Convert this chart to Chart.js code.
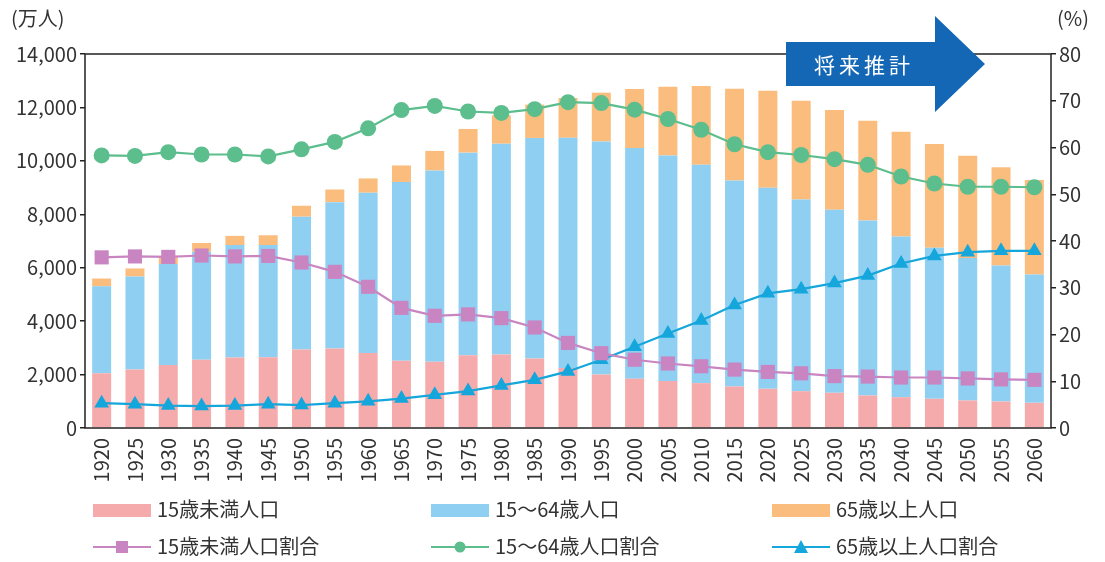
<!DOCTYPE html>
<html lang="ja">
<head>
<meta charset="utf-8">
<script src="https://cdn.jsdelivr.net/npm/chart.js@4"></script>
<style>
  html, body { margin: 0; padding: 0; background: #fff; }
  #wrap { position: relative; width: 1105px; height: 562px; font-family: "Noto Sans CJK JP", "Noto Sans", sans-serif; color: #333; }
  #c { position: absolute; left: 0; top: 0; }
  .unit { position: absolute; top: 4px; font-size: 20px; line-height: 28px; }
  .lg { position: absolute; font-size: 20px; white-space: nowrap; line-height: 24px; }
  .lg canvas { vertical-align: middle; margin-right: 6px; position: relative; top: -2px; }
</style>
</head>
<body>
<div id="wrap">
  <canvas id="c" width="1105" height="562"></canvas>
  <div class="unit" style="left:11px">(万人)</div>
  <div class="unit" style="left:1057px">(%)</div>
  <div id="legend"></div>
</div>
<script>
// 年次
var years = ['1920', '1925', '1930', '1935', '1940', '1945', '1950', '1955', '1960', '1965',
  '1970', '1975', '1980', '1985', '1990', '1995', '2000', '2005', '2010', '2015',
  '2020', '2025', '2030', '2035', '2040', '2045', '2050', '2055', '2060'];

// 人口（万人）
var pop0to14 = [2048, 2192, 2359, 2555, 2640, 2648, 2943, 2980, 2807, 2517,
  2482, 2722, 2751, 2603, 2249, 2001, 1847, 1759, 1680, 1554,
  1468, 1378, 1318, 1217, 1153, 1093, 1030, 992, 943];
var pop15to64 = [3254, 3477, 3780, 4045, 4208, 4199, 4966, 5473, 6000, 6693,
  7157, 7585, 7890, 8255, 8614, 8726, 8638, 8442, 8173, 7712,
  7525, 7177, 6851, 6552, 6017, 5654, 5332, 5092, 4804];
var pop65over = [294, 305, 306, 325, 345, 368, 411, 475, 535, 618,
  733, 887, 1065, 1247, 1489, 1826, 2204, 2576, 2948, 3434,
  3635, 3699, 3737, 3736, 3923, 3886, 3833, 3676, 3538];

// 割合（%）
var rate0to14 = [36.5, 36.7, 36.6, 36.9, 36.7, 36.8, 35.4, 33.4, 30.2, 25.7,
  24.0, 24.3, 23.5, 21.5, 18.2, 16.0, 14.6, 13.8, 13.2, 12.5,
  12.0, 11.7, 11.1, 11.0, 10.8, 10.8, 10.6, 10.4, 10.3];
var rate15to64 = [58.3, 58.2, 59.0, 58.5, 58.5, 58.1, 59.6, 61.2, 64.1, 68.0,
  68.9, 67.7, 67.4, 68.2, 69.7, 69.5, 68.1, 66.1, 63.8, 60.7,
  59.0, 58.4, 57.5, 56.3, 53.8, 52.3, 51.6, 51.6, 51.5];
var rate65over = [5.3, 5.1, 4.8, 4.7, 4.8, 5.1, 4.9, 5.3, 5.7, 6.3,
  7.1, 7.9, 9.1, 10.3, 12.1, 14.6, 17.4, 20.2, 23.0, 26.3,
  28.8, 29.7, 31.0, 32.6, 35.2, 36.8, 37.6, 37.9, 37.9];

var leftTicks = [0, 2000, 4000, 6000, 8000, 10000, 12000, 14000];
var rightTicks = [0, 10, 20, 30, 40, 50, 60, 70, 80];

var colPink = '#f5aaab';
var colBlue = '#8fd0f2';
var colOrange = '#fbbd7e';
var colPurple = '#c985c2';
var colGreen = '#5cbd8d';
var colCyan = '#15a6dc';
var axisCol = '#222';
var fontJa = '"Noto Sans CJK JP", "Noto Sans", sans-serif';

function barSet(label, data, color) {
  return {
    type: 'bar', label: label, data: data, backgroundColor: color,
    yAxisID: 'y', stack: 'pop', order: 2,
    barPercentage: 0.57, categoryPercentage: 1.0
  };
}
function lineSet(label, data, color, style, radius) {
  return {
    type: 'line', label: label, data: data, borderColor: color, backgroundColor: color,
    borderWidth: 2.2, pointStyle: style, pointRadius: radius, pointBorderWidth: 0,
    yAxisID: 'y1', order: 0, tension: 0
  };
}

// 枠線と「将来推計」の矢印
var framePlugin = {
  id: 'frame',
  afterDraw: function(chart) {
    var ctx = chart.ctx, a = chart.chartArea;
    ctx.save();
    ctx.strokeStyle = axisCol;
    ctx.lineWidth = 1.5;
    ctx.strokeRect(a.left, a.top, a.right - a.left, a.bottom - a.top);
    // arrow
    ctx.fillStyle = '#1467b5';
    ctx.beginPath();
    ctx.moveTo(786, 42);
    ctx.lineTo(935, 42);
    ctx.lineTo(935, 16);
    ctx.lineTo(985, 64);
    ctx.lineTo(935, 112);
    ctx.lineTo(935, 86);
    ctx.lineTo(786, 86);
    ctx.closePath();
    ctx.fill();
    ctx.fillStyle = '#fff';
    ctx.font = '21px ' + fontJa;
    ctx.textAlign = 'center';
    ctx.textBaseline = 'middle';
    if (ctx.letterSpacing !== undefined) ctx.letterSpacing = '4px';
    ctx.fillText('将来推計', 864, 65);
    ctx.restore();
  }
};

new Chart(document.getElementById('c'), {
  data: {
    labels: years,
    datasets: [
      barSet('15歳未満人口', pop0to14, colPink),
      barSet('15～64歳人口', pop15to64, colBlue),
      barSet('65歳以上人口', pop65over, colOrange),
      lineSet('15歳未満人口割合', rate0to14, colPurple, 'rect', 10),
      lineSet('15～64歳人口割合', rate15to64, colGreen, 'circle', 8),
      lineSet('65歳以上人口割合', rate65over, colCyan, 'triangle', 8.5)
    ]
  },
  options: {
    responsive: false,
    animation: false,
    layout: { padding: { top: 54, bottom: 70, left: 0, right: 0 } },
    plugins: { legend: { display: false }, tooltip: { enabled: false } },
    scales: {
      x: {
        stacked: true,
        offset: true,
        grid: { display: false },
        border: { display: false },
        ticks: {
          minRotation: 90, maxRotation: 90, autoSkip: false, padding: 2,
          color: '#333', font: { family: fontJa, size: 20 }
        },
        afterFit: function(s) { s.height = 64; }
      },
      y: {
        position: 'left',
        stacked: true,
        min: 0, max: 14000,
        afterBuildTicks: function(s) { s.ticks = leftTicks.map(function(v) { return { value: v }; }); },
        grid: { drawOnChartArea: false, tickLength: 5, color: axisCol, lineWidth: 1.5 },
        border: { display: false },
        ticks: {
          padding: 3, color: '#333', font: { family: fontJa, size: 20 },
          callback: function(v) { return v.toLocaleString('en-US'); }
        },
        afterFit: function(s) { s.width = 85; }
      },
      y1: {
        position: 'right',
        min: 0, max: 80,
        afterBuildTicks: function(s) { s.ticks = rightTicks.map(function(v) { return { value: v }; }); },
        grid: { drawOnChartArea: false, tickLength: 5, color: axisCol, lineWidth: 1.5 },
        border: { display: false },
        ticks: { padding: 3, color: '#333', font: { family: fontJa, size: 20 } },
        afterFit: function(s) { s.width = 54; }
      }
    }
  },
  plugins: [framePlugin]
});

// 凡例（3列×2行）
var legendItems = [
  { text: '15歳未満人口', color: colPink, kind: 'box', x: 93, y: 497 },
  { text: '15～64歳人口', color: colBlue, kind: 'box', x: 431, y: 497 },
  { text: '65歳以上人口', color: colOrange, kind: 'box', x: 772, y: 497 },
  { text: '15歳未満人口割合', color: colPurple, kind: 'rect', x: 93, y: 534 },
  { text: '15～64歳人口割合', color: colGreen, kind: 'circle', x: 431, y: 534 },
  { text: '65歳以上人口割合', color: colCyan, kind: 'triangle', x: 772, y: 534 }
];
var legendBox = document.getElementById('legend');
legendItems.forEach(function(it) {
  var d = document.createElement('div');
  d.className = 'lg';
  d.style.left = it.x + 'px';
  d.style.top = it.y + 'px';
  var sw = document.createElement('canvas');
  sw.width = 58; sw.height = 16;
  var g = sw.getContext('2d');
  g.fillStyle = it.color;
  g.strokeStyle = it.color;
  if (it.kind === 'box') {
    g.fillRect(0, 2, 58, 13);
  } else {
    g.lineWidth = 2;
    g.beginPath(); g.moveTo(0, 8); g.lineTo(58, 8); g.stroke();
    if (it.kind === 'rect') g.fillRect(23, 2, 12, 12);
    if (it.kind === 'circle') { g.beginPath(); g.arc(29, 8, 5.5, 0, Math.PI * 2); g.fill(); }
    if (it.kind === 'triangle') { g.beginPath(); g.moveTo(29, 1); g.lineTo(36, 14); g.lineTo(22, 14); g.closePath(); g.fill(); }
  }
  d.appendChild(sw);
  d.appendChild(document.createTextNode(it.text));
  legendBox.appendChild(d);
});
</script>
</body>
</html>
